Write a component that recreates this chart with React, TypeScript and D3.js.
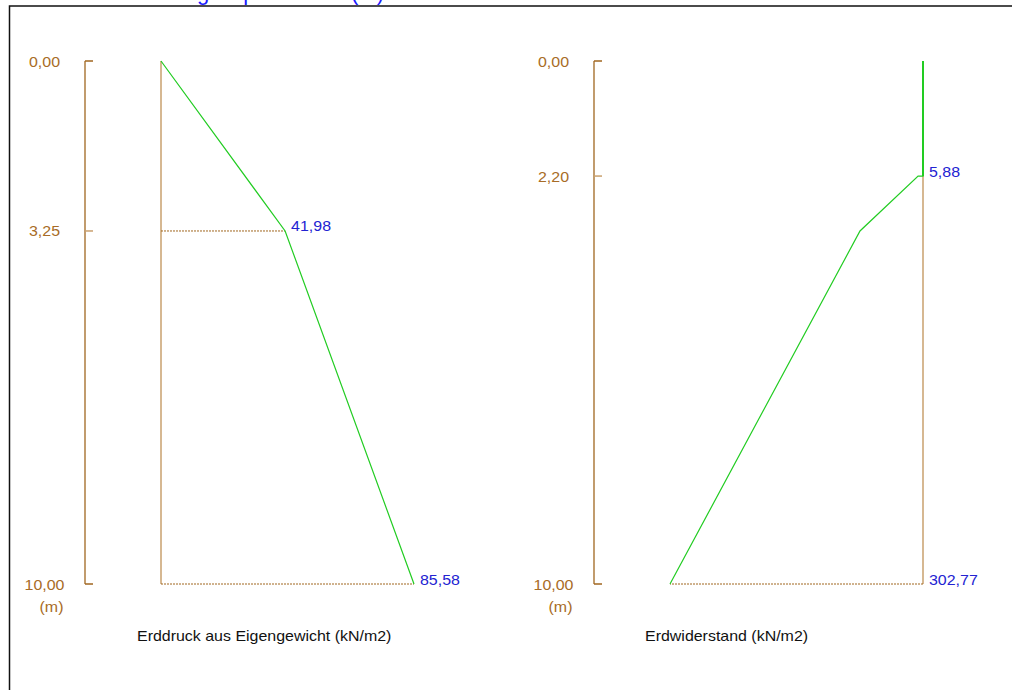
import React from "react";
import * as d3 from "d3";

// Earth pressure from self weight (left panel)
const leftDepths = [0, 3.25, 10];
const leftValues = [0, 41.98, 85.58];
const leftLabelIdx = [1, 2];
const leftTicks = [0, 3.25, 10];
const leftDashDepths = [3.25, 10];

// Passive earth resistance (right panel)
const rightDepths = [0, 2.2, 2.2, 3.25, 10];
const rightValues = [0, 0, 5.88, 75.4, 302.77];
const rightLabelIdx = [2, 4];
const rightTicks = [0, 2.2, 10];
const rightDashDepths = [10];

const titleText = "Erddruckverteilung - Spundwand (m)";
const leftCaption = "Erddruck aus Eigengewicht (kN/m2)";
const rightCaption = "Erdwiderstand (kN/m2)";
const unitLabel = "(m)";

const FONT = "'Liberation Sans', Arial, sans-serif";
const AXIS = "#a0661f";
const AXIS_LIGHT = "#c9a06e";
const TICK_TEXT = "#a86c26";
const VALUE_TEXT = "#2323d2";
const GREEN = "#22cc22";

const fmt = (v: number) => v.toFixed(2).replace(".", ",");

const y = d3.scaleLinear().domain([0, 10]).range([61, 584]);

function T({ x, yy, anchor = "start", fill, size = 14, children }: any) {
  return (
    <text
      transform={`translate(${x},${yy}) scale(1.14,1)`}
      textAnchor={anchor}
      fill={fill}
      fontFamily={FONT}
      fontSize={size}
    >
      {children}
    </text>
  );
}

function Panel({ axisX, x, depths, values, labelIdx, ticks, dashDepths, caption, captionX, topGreen }: any) {
  const line = d3
    .line<number>()
    .x((_, i) => x(values[i]))
    .y((_, i) => y(depths[i]));
  const zeroX = x(0);
  const dashValue = (d: number) => values[depths.lastIndexOf(d)];
  // value labels sit just right of the point, or right of the zero line when the curve runs leftwards
  const labelX = (v: number) => Math.max(x(v), zeroX) + 6;
  return (
    <g>
      {/* depth axis */}
      <line x1={axisX} x2={axisX} y1={y(0)} y2={y(10)} stroke={AXIS} strokeWidth={1.3} />
      {ticks.map((t: number, i: number) => (
        <g key={i}>
          <line
            x1={axisX}
            x2={axisX + 8}
            y1={y(t)}
            y2={y(t)}
            stroke={i === 0 || i === ticks.length - 1 ? AXIS : AXIS_LIGHT}
            strokeWidth={1.5}
          />
          <T x={axisX - 40.5} yy={y(t) + 5.5} anchor="middle" fill={TICK_TEXT}>
            {fmt(t)}
          </T>
        </g>
      ))}
      <T x={axisX - 33.5} yy={y(10) + 28} anchor="middle" fill={TICK_TEXT}>
        {unitLabel}
      </T>
      {/* zero line */}
      <line
        x1={zeroX}
        x2={zeroX}
        y1={topGreen ? y(topGreen) : y(0)}
        y2={y(10)}
        stroke={AXIS_LIGHT}
        strokeWidth={1.5}
      />
      {/* dotted level lines */}
      {dashDepths.map((d: number, i: number) => (
        <line
          key={i}
          x1={zeroX}
          x2={x(dashValue(d))}
          y1={y(d)}
          y2={y(d)}
          stroke="#a0661f"
          strokeWidth={1}
          strokeDasharray="2,1"
        />
      ))}
      <path d={line(values) || ""} fill="none" stroke={GREEN} strokeWidth={1.2} />
      {topGreen ? (
        <line x1={zeroX} x2={zeroX} y1={y(0)} y2={y(topGreen)} stroke={GREEN} strokeWidth={2} />
      ) : null}
      {labelIdx.map((i: number) => (
        <T key={i} x={labelX(values[i])} yy={y(depths[i]) + 0.5} fill={VALUE_TEXT}>
          {fmt(values[i])}
        </T>
      ))}
      <T x={captionX} yy={641} fill="#111">
        {caption}
      </T>
    </g>
  );
}

export default function App() {
  const xLeft = d3.scaleLinear().domain([0, 85.58]).range([161, 414]);
  const xRight = d3.scaleLinear().domain([0, 302.77]).range([923, 670]);
  return (
    <svg
      width={1012}
      height={690}
      style={{ position: "absolute", left: 0, top: 0, background: "#fff" }}
    >
      <rect x={0} y={0} width={1012} height={690} fill="#fff" />
      <text x={384} y={-0.5} textAnchor="end" fill="#1a1aff" fontFamily={FONT} fontSize={22}>
        {titleText}
      </text>
      <rect x={9.5} y={6} width={1020} height={700} fill="none" stroke="#111" strokeWidth={1.5} />
      <Panel
        axisX={85}
        x={xLeft}
        depths={leftDepths}
        values={leftValues}
        labelIdx={leftLabelIdx}
        ticks={leftTicks}
        dashDepths={leftDashDepths}
        caption={leftCaption}
        captionX={137}
      />
      <Panel
        axisX={594}
        x={xRight}
        depths={rightDepths}
        values={rightValues}
        labelIdx={rightLabelIdx}
        ticks={rightTicks}
        dashDepths={rightDashDepths}
        caption={rightCaption}
        captionX={645}
        topGreen={2.2}
      />
    </svg>
  );
}
